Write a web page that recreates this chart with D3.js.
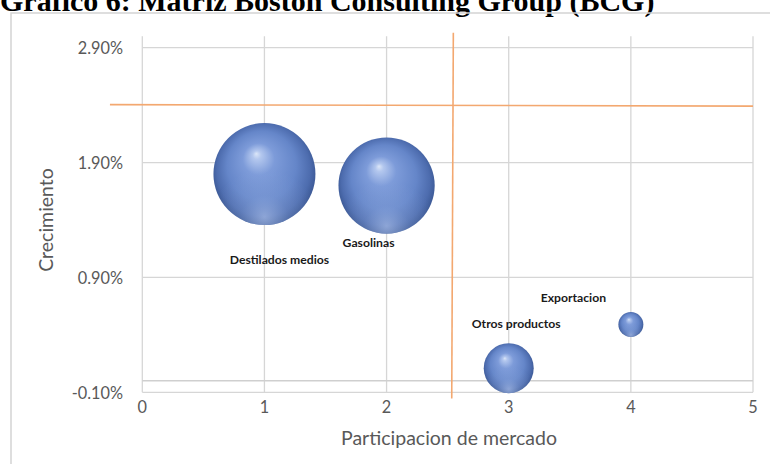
<!DOCTYPE html>
<html>
<head>
<meta charset="utf-8">
<script src="https://cdn.jsdelivr.net/npm/d3@7"></script>
<style>
  html, body { margin: 0; padding: 0; background: #fff; }
  svg { display: block; }
</style>
</head>
<body>
<svg id="chart" width="770" height="464"></svg>
<script>
// BCG matrix: market share (x), growth (y), bubble size = volume
const products = ["Destilados medios", "Gasolinas", "Otros productos", "Exportacion"];
const share    = [1, 2, 3, 4];
const growth   = [1.80, 1.70, 0.11, 0.49];   // percent
const volume   = [100, 89, 24, 6];

const xTicks = [0, 1, 2, 3, 4, 5];
const yTicks = [-0.10, 0.90, 1.90, 2.90];

// quadrant dividers (data units)
const dividerShare  = 2.54;
const dividerGrowth = 2.40;

const svg = d3.select("#chart");
const W = 770, H = 464;

const x = d3.scaleLinear().domain([0, 5]).range([142.3, 753]);
const y = d3.scaleLinear().domain([-0.10, 3.00]).range([392.3, 36.2]);
const r = d3.scaleSqrt().domain([0, d3.max(volume)]).range([0, 51]);

// bubble shading: lit sphere plus a soft lower rim reflection
const defs = svg.append("defs");
const g1 = defs.append("radialGradient").attr("id", "ball")
  .attr("cx", "50%").attr("cy", "48%").attr("r", "52%")
  .attr("fx", "42%").attr("fy", "30%");
[[0, "#dbe6f8"], [0.08, "#b3c7ee"], [0.3, "#7d9bd9"], [0.65, "#6586c9"], [0.88, "#4d6cae"], [1, "#3a5793"]]
  .forEach(([o, c]) => g1.append("stop").attr("offset", o).attr("stop-color", c));
const g2 = defs.append("radialGradient").attr("id", "rim")
  .attr("cx", "50%").attr("cy", "100%").attr("r", "55%")
  .attr("fx", "50%").attr("fy", "92%");
[[0, "#b9ccf2", 0.6], [0.45, "#9ab3e4", 0.25], [1, "#9ab3e4", 0]]
  .forEach(([o, c, a]) => g2.append("stop").attr("offset", o).attr("stop-color", c).attr("stop-opacity", a));

// title
svg.append("text")
  .attr("x", 0).attr("y", 11)
  .attr("font-family", "'Liberation Serif', 'Times New Roman', serif")
  .attr("font-weight", "bold").attr("font-size", 30).attr("fill", "#000")
  .text("Gráfico 6: Matriz Boston Consulting Group (BCG)");

// chart frame
svg.append("rect")
  .attr("x", 11).attr("y", 13).attr("width", W + 20).attr("height", H + 20)
  .attr("fill", "none").attr("stroke", "#d4d4d4").attr("stroke-width", 1.5);

const grid = "#d6d6d6";
const font = "Lato, 'Open Sans', sans-serif";

// horizontal gridlines
svg.append("g").selectAll("line").data(yTicks).join("line")
  .attr("x1", x(0)).attr("x2", x(5))
  .attr("y1", d => y(d)).attr("y2", d => y(d))
  .attr("stroke", grid).attr("stroke-width", 1.3);

// vertical gridlines
svg.append("g").selectAll("line").data(xTicks).join("line")
  .attr("x1", d => x(d)).attr("x2", d => x(d))
  .attr("y1", y(3.0)).attr("y2", y(-0.10))
  .attr("stroke", grid).attr("stroke-width", 1.3);

// horizontal axis line at zero growth
svg.append("line")
  .attr("x1", x(0)).attr("x2", x(5)).attr("y1", y(0)).attr("y2", y(0))
  .attr("stroke", "#cfcfcf").attr("stroke-width", 1.5);

// tick labels
const pct = d => d3.format(".2f")(d).replace("\u2212", "-") + "%";
svg.append("g").selectAll("text").data(yTicks).join("text")
  .attr("x", 123).attr("y", d => y(d))
  .attr("text-anchor", "end").attr("dominant-baseline", "central")
  .attr("font-family", font).attr("font-size", 16.3).attr("fill", "#595959")
  .text(pct);

svg.append("g").selectAll("text").data(xTicks).join("text")
  .attr("x", d => x(d)).attr("y", 406)
  .attr("text-anchor", "middle").attr("dominant-baseline", "central")
  .attr("font-family", font).attr("font-size", 16.3).attr("fill", "#595959")
  .text(d => d);

// axis titles
svg.append("text")
  .attr("transform", "translate(45,220) rotate(-90)")
  .attr("text-anchor", "middle").attr("dominant-baseline", "central")
  .attr("font-family", font).attr("font-size", 19.5).attr("fill", "#595959")
  .text("Crecimiento");

svg.append("text")
  .attr("x", 449).attr("y", 437)
  .attr("text-anchor", "middle").attr("dominant-baseline", "central")
  .attr("font-family", font).attr("font-size", 19.5).attr("fill", "#595959")
  .text("Participacion de mercado");

// quadrant dividers
const orange = "#f3a870";
svg.append("line")
  .attr("x1", x(-0.265)).attr("x2", x(5))
  .attr("y1", y(dividerGrowth) - 0.5).attr("y2", y(dividerGrowth) + 1)
  .attr("stroke", orange).attr("stroke-width", 1.6);
svg.append("line")
  .attr("x1", x(dividerShare) + 0.8).attr("x2", x(dividerShare) - 0.8)
  .attr("y1", y(3.03)).attr("y2", y(-0.155))
  .attr("stroke", orange).attr("stroke-width", 1.6);

// bubbles
const data = products.map((p, i) => ({ name: p, share: share[i], growth: growth[i], volume: volume[i] }));
const bubbles = svg.append("g").selectAll("g").data(data).join("g");
bubbles.append("circle")
  .attr("cx", d => x(d.share)).attr("cy", d => y(d.growth)).attr("r", d => r(d.volume))
  .attr("fill", "url(#ball)");
bubbles.append("circle")
  .attr("cx", d => x(d.share)).attr("cy", d => y(d.growth)).attr("r", d => r(d.volume))
  .attr("fill", "url(#rim)");

// data labels, placed around each bubble
const labelOffset = {
  "Destilados medios": [15, 85],
  "Gasolinas": [-18, 57],
  "Otros productos": [7.5, -44.5],
  "Exportacion": [-57.5, -27]
};
svg.append("g").selectAll("text").data(data).join("text")
  .attr("x", d => x(d.share) + labelOffset[d.name][0])
  .attr("y", d => y(d.growth) + labelOffset[d.name][1])
  .attr("text-anchor", "middle").attr("dominant-baseline", "central")
  .attr("font-family", font).attr("font-weight", "bold").attr("font-size", 12.2)
  .attr("fill", "#1a1a1a")
  .text(d => d.name);
</script>
</body>
</html>
